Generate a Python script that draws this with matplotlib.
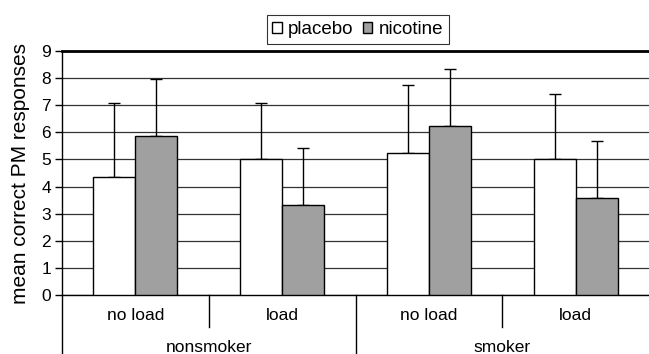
import matplotlib
matplotlib.use("Agg")
import matplotlib.pyplot as plt
import numpy as np

plt.rcParams['font.family'] = ['Liberation Sans', 'DejaVu Sans']

# data
conditions = ['no load', 'load', 'no load', 'load']
groups = ['nonsmoker', 'smoker']
placebo = [4.37, 5.0, 5.25, 5.0]
placebo_err = [2.72, 2.1, 2.5, 2.4]
nicotine = [5.88, 3.33, 6.25, 3.57]
nicotine_err = [2.1, 2.1, 2.1, 2.1]

fig = plt.figure(figsize=(6.49, 3.54), dpi=100)
ax = fig.add_axes([62 / 649, 59 / 354, 587 / 649, 244 / 354])

x = np.arange(len(conditions))
w = 0.286
kw = dict(edgecolor='black', linewidth=1.0, zorder=3)
ax.bar(x - w / 2, placebo, w, color='white', label='placebo', **kw)
ax.bar(x + w / 2, nicotine, w, color='#a0a0a0', label='nicotine', **kw)
ekw = dict(fmt='none', ecolor='black', elinewidth=1.0, capsize=4, capthick=1.0, zorder=2)
ax.errorbar(x - w / 2, placebo, yerr=[np.zeros(4), placebo_err], **ekw)
ax.errorbar(x + w / 2, nicotine, yerr=[np.zeros(4), nicotine_err], **ekw)

ax.set_xlim(-0.5, 3.5)
ax.set_ylim(0, 9)
ax.set_yticks(range(10))
ax.yaxis.grid(True, color='#333333', linewidth=0.9, zorder=0)
ax.set_axisbelow(True)
ax.tick_params(axis='y', labelsize=12.5, length=5, width=1, direction='out', pad=3)
ax.set_xticks([])
ax.spines['right'].set_visible(False)
ax.spines['top'].set_linewidth(2)
ax.spines['left'].set_linewidth(1)
ax.spines['bottom'].set_linewidth(1)
ax.set_ylabel('mean correct PM responses', fontsize=15)
ax.yaxis.set_label_coords(-0.055, 0.5)

# category labels under the axis
tr = ax.get_xaxis_transform()
for xi, lab in zip(x, conditions):
    ax.text(xi, -0.085, lab, transform=tr, ha='center', va='center', fontsize=12.5)
for gi, g in enumerate(groups):
    ax.text(0.5 + 2 * gi, -0.215, g, transform=tr, ha='center', va='center', fontsize=12.5)
for sx in [0.5, 2.5]:
    ax.plot([sx, sx], [0, -0.13], transform=tr, color='black', lw=1, clip_on=False)
for sx in [-0.5, 1.5]:
    ax.plot([sx, sx], [0, -0.25], transform=tr, color='black', lw=1, clip_on=False)

leg = ax.legend(loc='lower center', bbox_to_anchor=(0.504, 1.03), ncol=2, frameon=True,
                fancybox=False, edgecolor='black', fontsize=13.5, handlelength=0.5,
                handleheight=0.5, handletextpad=0.35, columnspacing=0.5,
                borderpad=0.3, borderaxespad=0)
leg.get_frame().set_linewidth(0.8)

fig.savefig('out.png', dpi=100)
